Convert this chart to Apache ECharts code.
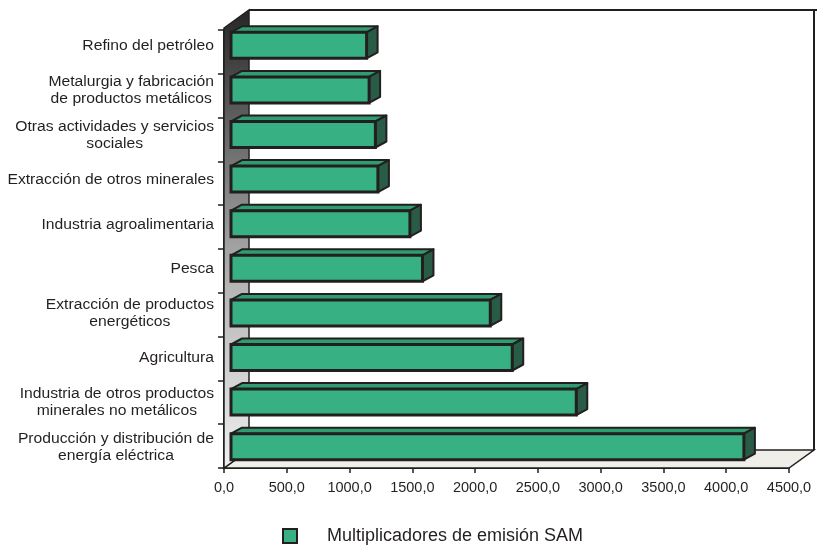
<!DOCTYPE html>
<html>
<head>
<meta charset="utf-8">
<script src="https://cdn.jsdelivr.net/npm/echarts@6/dist/echarts.min.js"></script>
<style>
html,body{margin:0;padding:0;background:#fff;}
#chart{width:817px;height:546px;}
</style>
</head>
<body>
<div id="chart"></div>
<script>
const categories = [
  'Refino del petróleo',
  'Metalurgia y fabricación\nde productos metálicos',
  'Otras actividades y servicios\nsociales',
  'Extracción de otros minerales',
  'Industria agroalimentaria',
  'Pesca',
  'Extracción de productos\nenergéticos',
  'Agricultura',
  'Industria de otros productos\nminerales no metálicos',
  'Producción y distribución de\nenergía eléctrica'
];
const values = [1080, 1100, 1150, 1170, 1425, 1525, 2065, 2240, 2750, 4085];
const seriesName = 'Multiplicadores de emisión SAM';
const xMin = 0, xMax = 4500, xStep = 500;

const FONT = '"Liberation Sans", Arial, Helvetica, sans-serif';
const INK = '#231f20';
const LABEL_SIZE = 14, LABEL_SCALE = 1.12, LABEL_LH = 17;

const measureCtx = document.createElement('canvas').getContext('2d');
measureCtx.font = LABEL_SIZE + 'px ' + FONT;
function maxLineWidth(t) {
  return Math.max.apply(null, t.split('\n').map(l => measureCtx.measureText(l).width));
}

const chart = echarts.init(document.getElementById('chart'), null, {renderer: 'canvas'});

function renderWalls(params, api) {
  const cs = params.coordSys;
  const x0 = cs.x, y0 = cs.y, x1 = cs.x + cs.width, y1 = cs.y + cs.height;
  const dx = 25, dy = -18, top = y0 - 2;
  return {
    type: 'group',
    children: [
      {
        type: 'polygon',
        shape: {points: [[x0 + dx, y1 + dy], [x1 + dx, y1 + dy], [x1, y1], [x0, y1]]},
        style: {fill: '#efeee9', stroke: INK, lineWidth: 1.5}
      },
      {
        type: 'polygon',
        shape: {points: [[x0, top], [x0 + dx, top + dy], [x0 + dx, y1 + dy], [x0, y1]]},
        style: {
          fill: {type: 'linear', x: 0, y: 0, x2: 0, y2: 1, colorStops: [
            {offset: 0, color: '#262626'},
            {offset: 0.3, color: '#6e6e6e'},
            {offset: 0.6, color: '#b5b5b5'},
            {offset: 1, color: '#f0f0f0'}
          ]},
          stroke: INK, lineWidth: 1.5
        }
      },
      {
        type: 'polyline',
        shape: {points: [[x0 + dx, top + dy], [x1 + dx + 3, top + dy], [x1 + dx, top + dy], [x1 + dx, y1 + dy]]},
        style: {fill: null, stroke: INK, lineWidth: 2}
      }
    ]
  };
}

function renderBar(params, api) {
  const i = api.value(1);
  const v = api.value(0);
  const p0 = api.coord([0, i]);
  const p1 = api.coord([v, i]);
  const h = 26, bdx = 11, bdy = -6;
  const xa = p0[0] + 7, xb = p1[0] + 7;
  const yt = p1[1] - h / 2, yb = yt + h;
  const label = categories[i];
  const w = maxLineWidth(label) * LABEL_SCALE;
  const rightEdge = p0[0] - 10;
  return {
    type: 'group',
    children: [
      {
        type: 'polygon',
        shape: {points: [[xa, yt], [xb, yt], [xb + bdx, yt + bdy], [xa + bdx, yt + bdy]]},
        style: {fill: '#2e9d72', stroke: INK, lineWidth: 2, lineJoin: 'round'}
      },
      {
        type: 'polygon',
        shape: {points: [[xb, yt], [xb + bdx, yt + bdy], [xb + bdx, yb + bdy], [xb, yb]]},
        style: {fill: '#295c46', stroke: INK, lineWidth: 2, lineJoin: 'round'}
      },
      {
        type: 'rect',
        shape: {x: xa, y: yt, width: xb - xa, height: h},
        style: {fill: '#37b183', stroke: INK, lineWidth: 3}
      },
      {
        type: 'text',
        x: rightEdge - w / 2,
        y: p1[1] + 1,
        scaleX: LABEL_SCALE,
        style: {
          text: label,
          fill: INK,
          fontSize: LABEL_SIZE,
          fontFamily: FONT,
          lineHeight: LABEL_LH,
          align: 'center',
          verticalAlign: 'middle',
          textAlign: 'center',
          textVerticalAlign: 'middle'
        }
      }
    ]
  };
}

const option = {
  animation: false,
  backgroundColor: '#ffffff',
  textStyle: {fontFamily: FONT, color: INK},
  grid: [
    {left: 224, right: 28, top: 30, bottom: 78, containLabel: false, outerBoundsMode: 'none'},
    {left: 224, right: 28, top: 23, bottom: 77, containLabel: false, outerBoundsMode: 'none'}
  ],
  legend: {
    data: [seriesName],
    left: 282,
    top: 527,
    padding: 0,
    icon: 'rect',
    itemWidth: 14,
    itemHeight: 14,
    itemStyle: {color: '#37b183', borderColor: INK, borderWidth: 2},
    textStyle: {fontSize: 18, fontFamily: FONT, color: INK, padding: [0, 0, 0, 25]}
  },
  xAxis: [
    {
      type: 'value',
      gridIndex: 0,
      min: xMin,
      max: xMax,
      interval: xStep,
      axisLine: {show: true, lineStyle: {color: INK, width: 2}},
      axisTick: {show: true, length: 5, lineStyle: {color: INK, width: 1.5}},
      splitLine: {show: false},
      axisLabel: {
        margin: 12,
        fontSize: 14.5,
        fontFamily: FONT,
        color: INK,
        formatter: v => v.toFixed(1).replace('.', ',')
      }
    },
    {
      type: 'value',
      gridIndex: 1,
      min: xMin,
      max: xMax,
      interval: xStep,
      show: false
    }
  ],
  yAxis: [
    {
      type: 'category',
      gridIndex: 0,
      inverse: true,
      data: categories,
      axisLine: {show: true, lineStyle: {color: INK, width: 2}},
      axisTick: {show: true, length: 6, lineStyle: {color: INK, width: 1.5}},
      axisLabel: {show: false},
      splitLine: {show: false}
    },
    {
      type: 'category',
      gridIndex: 1,
      inverse: true,
      data: categories,
      show: false
    }
  ],
  series: [
    {
      type: 'custom',
      name: 'walls',
      xAxisIndex: 0,
      yAxisIndex: 0,
      renderItem: renderWalls,
      data: [[0, 0]],
      z: 1,
      silent: true,
      encode: {x: 0, y: 1}
    },
    {
      type: 'custom',
      name: seriesName,
      xAxisIndex: 1,
      yAxisIndex: 1,
      renderItem: renderBar,
      itemStyle: {color: '#37b183'},
      data: values.map((v, i) => [v, i]),
      encode: {x: 0, y: 1},
      z: 3
    }
  ]
};
chart.setOption(option);
</script>
</body>
</html>
